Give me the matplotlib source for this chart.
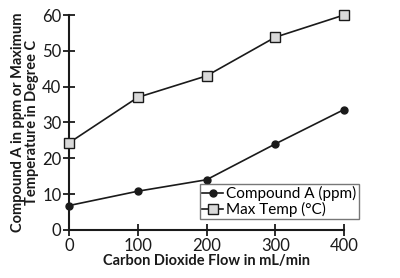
import matplotlib
matplotlib.use("Agg")
import matplotlib.pyplot as plt

flow = [0, 100, 200, 300, 400]
compound_a = [6.8, 10.8, 14.0, 24.0, 33.6]
max_temp = [24.3, 37.0, 43.0, 53.8, 60.0]
xticks = [0, 100, 200, 300, 400]
yticks = [0, 10, 20, 30, 40, 50, 60]

plt.rcParams['font.family'] = ['Lato', 'DejaVu Sans']

fig = plt.figure(figsize=(4.0, 2.78), dpi=100)
ax = fig.add_axes([0.1725, 0.173, 0.6875, 0.773])

ax.plot(flow, compound_a, color='#1a1a1a', lw=1.2, marker='o', ms=5,
        mfc='#1a1a1a', mec='#1a1a1a', label='Compound A (ppm)', clip_on=False, zorder=3)
ax.plot(flow, max_temp, color='#1a1a1a', lw=1.2, marker='s', ms=7,
        mfc='#d9d9d9', mec='#1a1a1a', mew=1.0, label='Max Temp (°C)', clip_on=False, zorder=3)

ax.set_xlim(0, 400)
ax.set_ylim(0, 60)
ax.set_xticks(xticks)
ax.set_yticks(yticks)
for s in ['top', 'right']:
    ax.spines[s].set_visible(False)
for s in ['left', 'bottom']:
    ax.spines[s].set_linewidth(1.5)
    ax.spines[s].set_color('#1a1a1a')
ax.tick_params(direction='inout', length=9, width=1.3, labelsize=12,
               colors='#1a1a1a', pad=1)

ax.set_xlabel('Carbon Dioxide Flow in mL/min', fontsize=10.5, fontweight='bold',
              color='#1a1a1a', labelpad=0)
ax.set_ylabel('Compound A in ppm or Maximum\nTemperature in Degree C', fontsize=10.5,
              fontweight='bold', color='#1a1a1a', linespacing=1.05, labelpad=2)

leg = ax.legend(loc='lower left', bbox_to_anchor=(0.475, 0.05), fontsize=11,
                frameon=True, fancybox=False, edgecolor='#555555', borderpad=0.15,
                handlelength=1.4, handletextpad=0.2, labelspacing=0.05,
                borderaxespad=0)
leg.get_frame().set_linewidth(1.0)

fig.savefig('out.png', dpi=100)
